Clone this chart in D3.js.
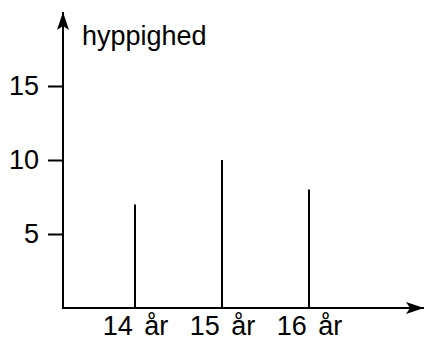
<!DOCTYPE html>
<html>
<head>
<meta charset="utf-8">
<script src="https://cdn.jsdelivr.net/npm/d3@7"></script>
<style>
  html, body { margin: 0; padding: 0; background: #fff; }
  svg { display: block; }
  text { font-family: "Liberation Sans", Arial, Helvetica, sans-serif; fill: #000; }
</style>
</head>
<body>
<svg id="chart" width="425" height="340"></svg>
<script>
// Frequency of each age
const ages = ["14 år", "15 år", "16 år"];
const counts = [7, 10, 8];
const yTicks = [5, 10, 15];
const yLabel = "hyppighed";

const svg = d3.select("#chart");
const ink = "#000";
const fontSize = "27px";

const x0 = 63;           // y-axis position
const xEnd = 424;        // tip of the x-axis arrow

const y = d3.scaleLinear().domain([0, 20]).range([308, 12]);
const x = d3.scalePoint().domain(ages).range([135, 309]);

// arrowhead marker
svg.append("defs").append("marker")
  .attr("id", "arrow")
  .attr("viewBox", "0 0 18 12")
  .attr("refX", 18).attr("refY", 6)
  .attr("markerWidth", 18).attr("markerHeight", 12)
  .attr("markerUnits", "userSpaceOnUse")
  .attr("orient", "auto")
  .append("path")
  .attr("d", "M0,0 L18,6 L0,12 L4,6 Z")
  .attr("fill", ink);

// y axis with ticks to the left
const yAxis = svg.append("g")
  .attr("transform", `translate(${x0},0)`)
  .call(d3.axisLeft(y).tickValues(yTicks).tickSize(15).tickPadding(9));
yAxis.select(".domain").remove();
yAxis.selectAll(".tick line").attr("stroke", ink).attr("stroke-width", 2);
yAxis.selectAll(".tick text")
  .style("font-size", fontSize)
  .attr("fill", ink);

// x axis labels under each age
const xAxis = svg.append("g")
  .attr("transform", `translate(0,${y(0)})`)
  .call(d3.axisBottom(x).tickSize(0).tickPadding(8));
xAxis.select(".domain").remove();
xAxis.selectAll(".tick text")
  .style("font-size", fontSize)
  .style("word-spacing", "4px")
  .attr("fill", ink);

// axis lines with arrows
svg.append("line")
  .attr("x1", x0).attr("y1", y(0) + 1)
  .attr("x2", x0).attr("y2", y.range()[1])
  .attr("stroke", ink).attr("stroke-width", 2)
  .attr("marker-end", "url(#arrow)");
svg.append("line")
  .attr("x1", x0 - 1).attr("y1", y(0))
  .attr("x2", xEnd).attr("y2", y(0))
  .attr("stroke", ink).attr("stroke-width", 2)
  .attr("marker-end", "url(#arrow)");

// frequency sticks
svg.append("g").selectAll("line")
  .data(counts)
  .join("line")
  .attr("x1", (d, i) => x(ages[i]))
  .attr("x2", (d, i) => x(ages[i]))
  .attr("y1", y(0))
  .attr("y2", d => y(d))
  .attr("stroke", ink).attr("stroke-width", 2);

// y-axis title
svg.append("text")
  .attr("x", 82).attr("y", 45)
  .style("font-size", fontSize)
  .text(yLabel);
</script>
</body>
</html>
